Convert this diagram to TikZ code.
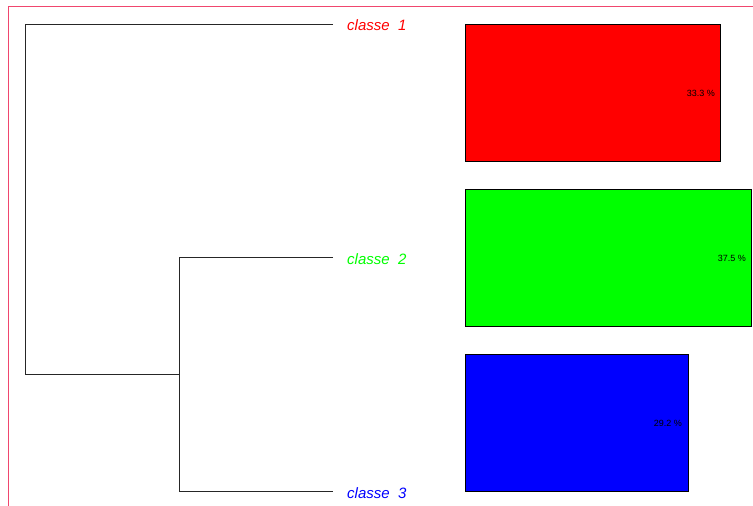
\documentclass[tikz,border=0pt]{standalone}
\usepackage{fontspec}
\setmainfont{Liberation Sans}
\definecolor{cadre}{RGB}{240,70,110}
\definecolor{vert}{RGB}{0,255,0}
\tikzset{
  branche/.style={line width=1pt, black!85},
  etiquette/.style={anchor=west, inner sep=0pt, font=\itshape\fontsize{15}{15}\selectfont},
  barre/.style={draw=black, line width=1pt},
  pourcent/.style={anchor=east, inner sep=0pt, font=\fontsize{9}{9}\selectfont, black}
}
\begin{document}
\begin{tikzpicture}[x=1pt,y=-1pt]
  \useasboundingbox (0,0) rectangle (753,506);

  % cadre
  \draw[cadre, line width=0.8pt] (8.5,512) -- (8.5,6) -- (760,6);

  % feuilles et noeuds de l'arbre
  \coordinate (f1) at (333,24);
  \coordinate (f2) at (333,257);
  \coordinate (f3) at (333,491);
  \coordinate (h2) at (179,257);
  \coordinate (h3) at (179,491);
  \coordinate (n23) at (179,374);
  \coordinate (r) at (25,374);

  % arbre
  \draw[branche] (f1) -| (r) -- (n23);
  \draw[branche] (f2) -- (h2) -- (h3) -- (f3);

  % classes
  \node[etiquette, red] (c1) at (347,25.5) {classe\ \ 1};
  \node[etiquette, vert] (c2) at (347,259) {classe\ \ 2};
  \node[etiquette, blue] (c3) at (347,493) {classe\ \ 3};

  % barres
  \draw[barre, fill=red] (465,24) rectangle (720,161);
  \node[pourcent] (p1) at (715,93) {33.3 \%};

  \draw[barre, fill=vert] (465,189) rectangle (751,326);
  \node[pourcent] (p2) at (746,258) {37.5 \%};

  \draw[barre, fill=blue] (465,354) rectangle (688,491);
  \node[pourcent] (p3) at (682,423) {29.2 \%};
\end{tikzpicture}
\end{document}
